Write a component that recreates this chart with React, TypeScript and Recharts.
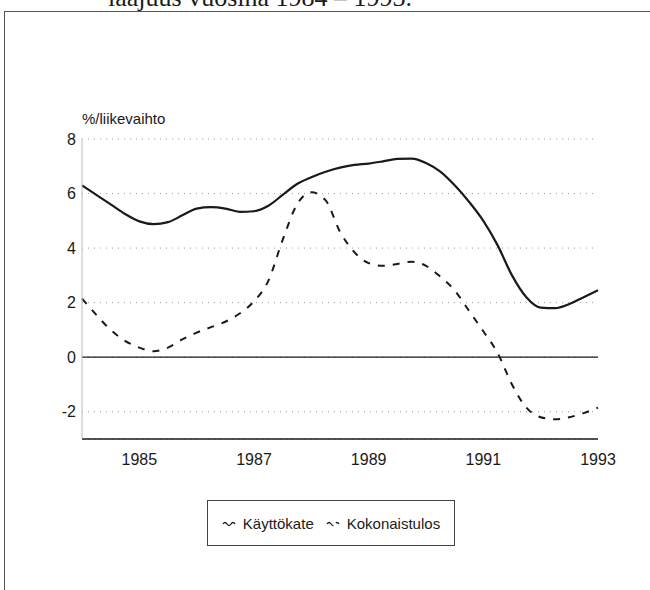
import { CartesianGrid, Line, LineChart, ReferenceLine, XAxis, YAxis } from "recharts";

const years = [
  1984, 1984.25, 1984.5, 1984.75, 1985, 1985.25, 1985.5, 1985.75, 1986, 1986.25, 1986.5, 1986.75,
  1987, 1987.25, 1987.5, 1987.75, 1988, 1988.25, 1988.5, 1988.75, 1989, 1989.25, 1989.5, 1989.75,
  1990, 1990.25, 1990.5, 1990.75, 1991, 1991.25, 1991.5, 1991.75, 1992, 1992.25, 1992.5, 1992.75,
  1993,
];

const kayttokate = [
  6.3, 5.95, 5.6, 5.25, 4.98, 4.88, 4.95, 5.2, 5.45, 5.5, 5.45, 5.33,
  5.35, 5.55, 5.95, 6.35, 6.6, 6.8, 6.95, 7.05, 7.1, 7.18, 7.27, 7.28,
  7.12, 6.8, 6.3, 5.7, 5.0, 4.1, 3.0, 2.2, 1.82, 1.8, 1.95, 2.2,
  2.45,
];

const kokonaistulos = [
  2.15, 1.55, 1.0, 0.6, 0.35, 0.22, 0.35, 0.65, 0.9, 1.1, 1.3, 1.6,
  2.05, 2.8, 4.3, 5.6, 6.05, 5.75, 4.6, 3.85, 3.45, 3.35, 3.42, 3.5,
  3.35, 2.95, 2.45, 1.7, 0.95, 0.15, -1.0, -1.85, -2.2, -2.28, -2.2, -2.05,
  -1.85,
];

const xTicks = [1985, 1987, 1989, 1991, 1993];
const yTicks = [-2, 0, 2, 4, 6, 8];

const font = '"Liberation Sans", Arial, sans-serif';
const ink = "#1a1a1a";

const data = years.map((v, i) => ({
  vuosi: v,
  kayttokate: kayttokate[i],
  kokonaistulos: kokonaistulos[i],
}));

function Wave({ dashed }: { dashed?: boolean }) {
  return (
    <svg width={16} height={8} style={{ marginRight: 5 }}>
      <path
        d="M1 5 Q3 2 5 5 T9 5 T13 5"
        fill="none"
        stroke={ink}
        strokeWidth={1.3}
        strokeDasharray={dashed ? "8 3" : undefined}
      />
    </svg>
  );
}

export default function App() {
  return (
    <div
      style={{
        position: "absolute",
        left: 0,
        top: 0,
        width: 650,
        height: 590,
        background: "#fff",
        overflow: "hidden",
        fontFamily: font,
      }}
    >
      <div
        style={{
          position: "absolute",
          left: 108,
          top: -15,
          fontFamily: '"Liberation Serif", "DejaVu Serif", serif',
          fontSize: 26,
          lineHeight: "26px",
          color: ink,
          whiteSpace: "nowrap",
        }}
      >
        laajuus vuosina 1984 – 1993.
      </div>
      <div
        style={{
          position: "absolute",
          left: 4,
          top: 11,
          width: 700,
          height: 700,
          borderLeft: "1.5px solid #555",
          borderTop: "1.5px solid #555",
        }}
      />
      <div
        style={{
          position: "absolute",
          left: 82,
          top: 110,
          fontSize: 15,
          color: ink,
        }}
      >
        %/liikevaihto
      </div>
      <div style={{ position: "absolute", left: 0, top: 0 }}>
        <LineChart
          width={650}
          height={590}
          data={data}
          margin={{ top: 139, right: 52, bottom: 121, left: 42 }}
        >
          <CartesianGrid
            horizontal
            vertical={false}
            stroke="#999"
            strokeDasharray="1 5"
          />
          <XAxis
            dataKey="vuosi"
            type="number"
            domain={[1984, 1993]}
            ticks={xTicks}
            height={30}
            tickLine={false}
            tickSize={0}
            tickMargin={15}
            axisLine={{ stroke: ink, strokeWidth: 1.5 }}
            tick={{ fill: ink, fontSize: 16, fontFamily: font }}
          />
          <YAxis
            type="number"
            domain={[-3, 8]}
            ticks={yTicks}
            width={40}
            tickLine={false}
            tickSize={0}
            tickMargin={6}
            axisLine={{ stroke: "#bbb", strokeWidth: 1 }}
            tick={{ fill: ink, fontSize: 16, fontFamily: font }}
          />
          <ReferenceLine y={0} stroke={ink} strokeWidth={1.2} />
          <Line
            type="monotone"
            dataKey="kayttokate"
            stroke={ink}
            strokeWidth={2.2}
            dot={false}
            isAnimationActive={false}
          />
          <Line
            type="monotone"
            dataKey="kokonaistulos"
            stroke={ink}
            strokeWidth={2}
            strokeDasharray="7 8"
            dot={false}
            isAnimationActive={false}
          />
        </LineChart>
      </div>
      <div
        style={{
          position: "absolute",
          left: 207,
          top: 500,
          width: 246,
          height: 44,
          border: "1.5px solid #444",
          display: "flex",
          alignItems: "center",
          justifyContent: "center",
          fontSize: 15,
          color: ink,
        }}
      >
        <Wave />
        <span style={{ marginRight: 12 }}>Käyttökate</span>
        <Wave dashed />
        <span>Kokonaistulos</span>
      </div>
    </div>
  );
}
